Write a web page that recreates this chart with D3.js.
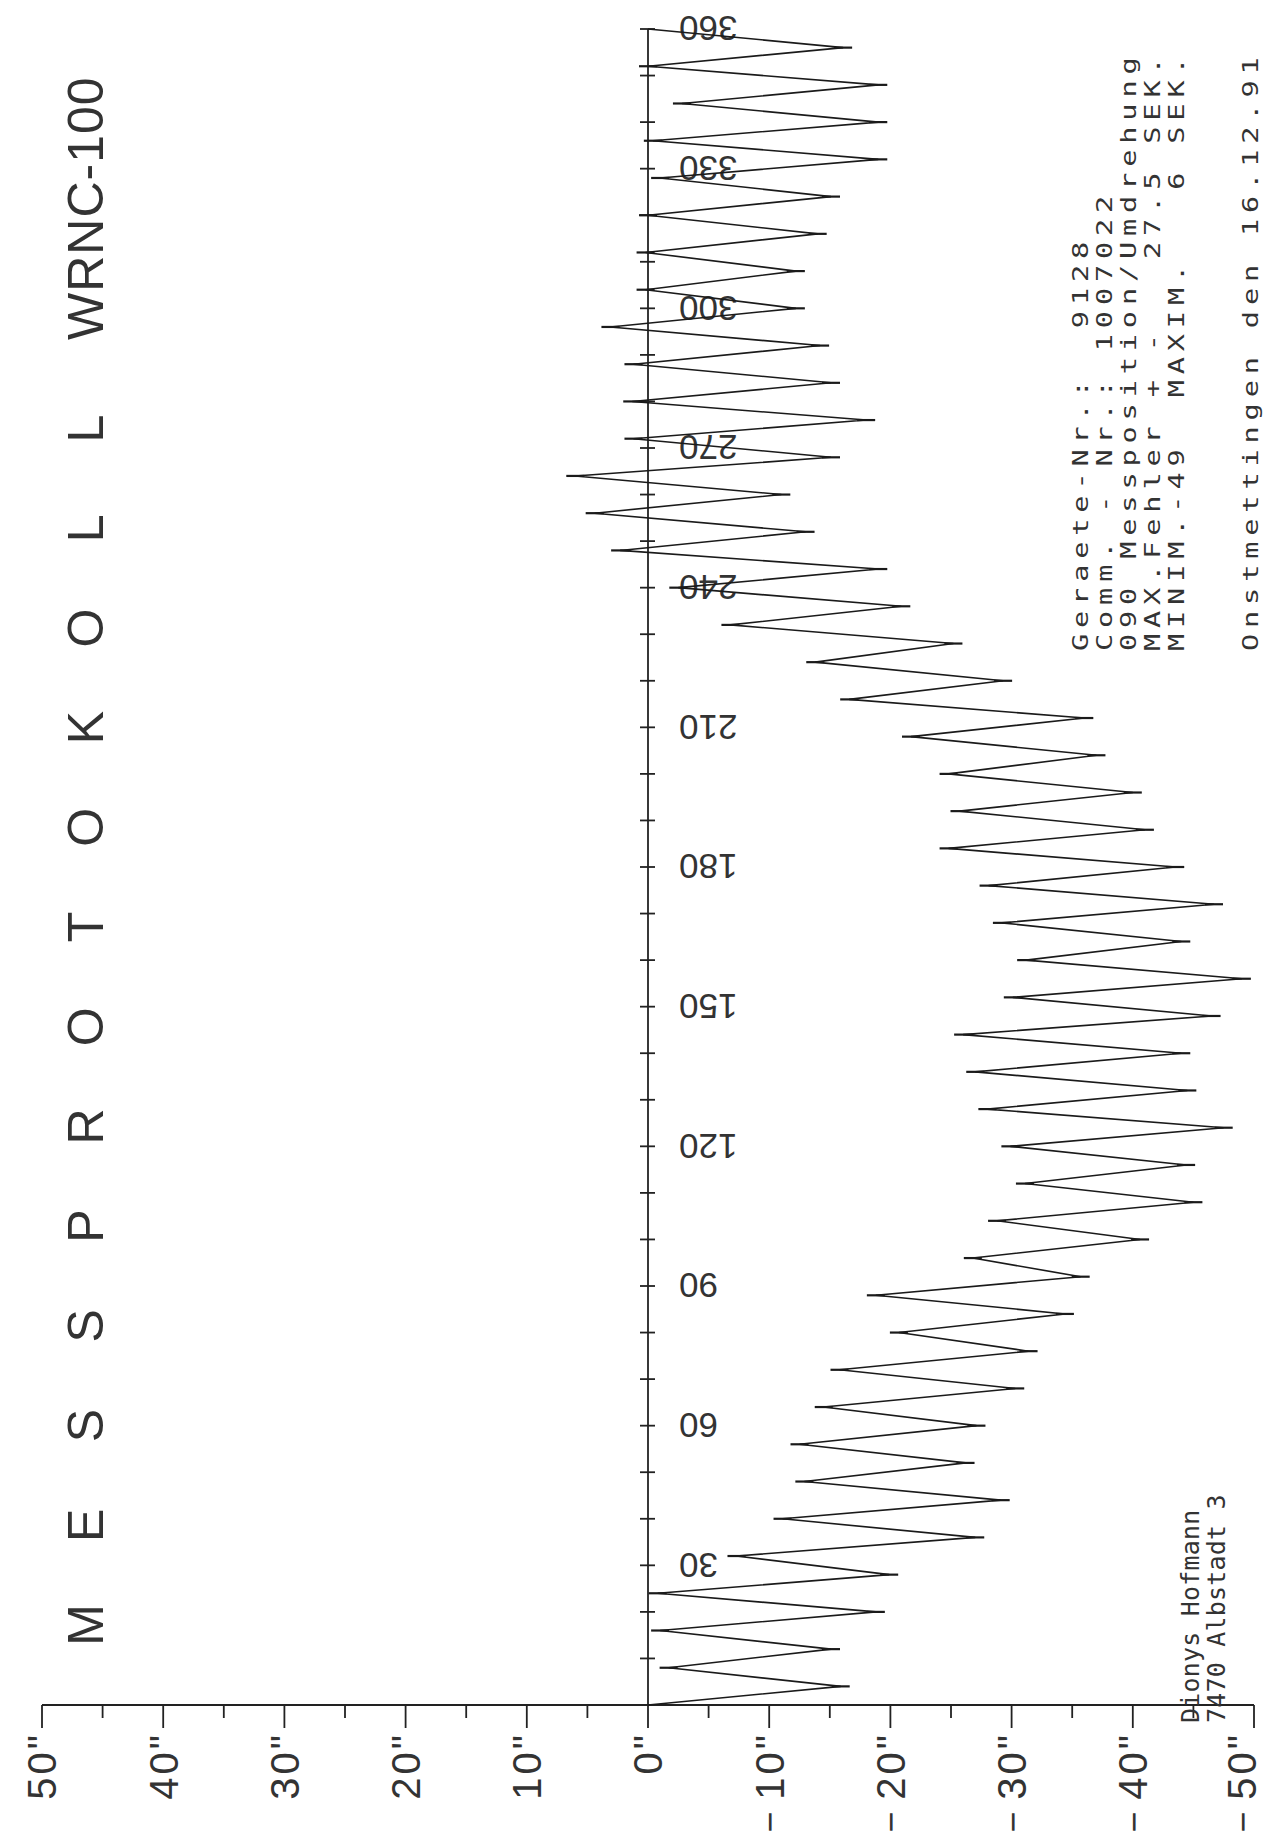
<!DOCTYPE html>
<html>
<head>
<meta charset="utf-8">
<script src="https://cdn.jsdelivr.net/npm/d3@7"></script>
<style>
  html, body { margin: 0; padding: 0; background: #ffffff; }
  svg { display: block; }
</style>
</head>
<body>
<svg id="chart" width="1271" height="1841"></svg>
<script>
// ---------- data ----------
const positions = [0,4,8,12,16,20,24,28,32,36,40,44,48,52,56,60,64,68,72,76,80,84,88,92,96,100,
  104,108,112,116,120,124,128,132,136,140,144,148,152,156,160,164,168,172,176,180,184,188,192,196,
  200,204,208,212,216,220,224,228,232,236,240,244,248,252,256,260,264,268,272,276,280,284,288,292,
  296,300,304,308,312,316,320,324,328,332,336,340,344,348,352,356,360];
const errors = [0,-15.9,-1.7,-15.1,-1.0,-18.8,-0.8,-19.9,-7.3,-27.0,-11.1,-29.1,-12.9,-26.2,-12.5,
  -27.1,-14.5,-30.3,-15.8,-31.4,-20.7,-34.4,-18.8,-35.7,-26.8,-40.6,-28.8,-45.0,-31.1,-44.4,-29.9,
  -47.5,-28.0,-44.5,-27.0,-44.0,-26.0,-46.5,-30.1,-49.0,-31.2,-44.0,-29.2,-46.7,-28.1,-43.5,-24.8,
  -41.0,-25.7,-40.0,-24.8,-37.0,-21.7,-36.0,-16.6,-29.3,-13.8,-25.2,-6.8,-20.9,-2.5,-19.0,2.3,
  -13.0,4.4,-11.0,6.0,-15.1,1.2,-18.0,1.3,-15.1,1.2,-14.2,3.1,-12.2,0.2,-12.2,0.2,-14.0,0,-15.1,
  -1.0,-19.0,-0.4,-19.0,-2.8,-19.0,0,-16.1,0];
const errorTicks = [-50,-45,-40,-35,-30,-25,-20,-15,-10,-5,0,5,10,15,20,25,30,35,40,45,50];
const errorLabels = [-50,-40,-30,-20,-10,0,10,20,30,40,50];
const positionTicks = [0,10,20,30,40,50,60,70,80,90,100,110,120,130,140,150,160,170,180,190,200,
  210,220,230,240,250,260,270,280,290,300,310,320,330,340,350,360];
const positionLabels = [30,60,90,120,150,180,210,240,270,300,330,360];
const titleLetters = ["M","E","S","S","P","R","O","T","O","K","O","L","L"];
const titleModel = "WRNC-100";
const infoLines = [
  "Geraete-Nr.:  9128",
  "Comm. - Nr.: 1007022",
  "090 Messposition/Umdrehung",
  "MAX.Fehler + -   27.5 SEK.",
  "MINIM.-49  MAXIM.   6 SEK."
];
const placeLine = "Onstmettingen den 16.12.91";
const addressLines = ["Dionys Hofmann", "7470 Albstadt 3"];

// ---------- scales ----------
const x = d3.scaleLinear().domain([50, -50]).range([42, 1254]);
const y = d3.scaleLinear().domain([0, 360]).range([1705, 29]);

const svg = d3.select("#chart");
const ink = "#222";
svg.append("rect").attr("width", 1271).attr("height", 1841).attr("fill", "#fff");

// ---------- error axis (horizontal, at position 0) ----------
const gx = svg.append("g");
gx.append("line")
  .attr("x1", x(50)).attr("x2", x(-50))
  .attr("y1", y(0)).attr("y2", y(0))
  .attr("stroke", ink).attr("stroke-width", 1.8);
gx.selectAll("line.tk").data(errorTicks).join("line")
  .attr("class", "tk")
  .attr("x1", d => x(d)).attr("x2", d => x(d))
  .attr("y1", y(0))
  .attr("y2", d => y(0) + (d % 10 === 0 ? 23 : 13))
  .attr("stroke", ink).attr("stroke-width", 1.8);
const labelFont = "'Liberation Sans', Arial, sans-serif";
const labX = d => Math.min(x(d), 1242);
gx.selectAll("text.lab").data(errorLabels).join("text")
  .attr("class", "lab")
  .attr("transform", d => `translate(${labX(d)},1732) rotate(-90)`)
  .attr("text-anchor", "end")
  .attr("dy", "0.36em")
  .attr("font-family", labelFont)
  .attr("font-size", 40)
  .attr("letter-spacing", 3)
  .attr("fill", "#333")
  .text(d => `${Math.abs(d)}"`);
gx.selectAll("text.minus").data(errorLabels.filter(d => d < 0)).join("text")
  .attr("class", "minus")
  .attr("transform", d => `translate(${labX(d)},1822) rotate(-90)`)
  .attr("text-anchor", "middle")
  .attr("dy", "0.36em")
  .attr("font-family", labelFont)
  .attr("font-size", 36)
  .attr("fill", "#333")
  .text("\u2212");

// ---------- position axis (vertical, at 0") ----------
const gy = svg.append("g");
gy.append("line")
  .attr("x1", x(0)).attr("x2", x(0))
  .attr("y1", y(0)).attr("y2", y(360))
  .attr("stroke", ink).attr("stroke-width", 1.8);
gy.selectAll("line.tk").data(positionTicks.filter(d => d > 0)).join("line")
  .attr("class", "tk")
  .attr("x1", x(0) - 8).attr("x2", x(0) + 7)
  .attr("y1", d => y(d)).attr("y2", d => y(d))
  .attr("stroke", ink).attr("stroke-width", 1.8);
gy.selectAll("text").data(positionLabels).join("text")
  .attr("transform", d => `translate(679,${y(d)}) rotate(180)`)
  .attr("text-anchor", "end")
  .attr("dy", "0.36em")
  .attr("font-family", labelFont)
  .attr("font-size", 35)
  .attr("fill", "#333")
  .text(d => d);

// ---------- error curve ----------
const pts = positions.map((p, i) => ({p, v: errors[i], i}));
const line = d3.line().x(d => x(d.v)).y(d => y(d.p));
svg.append("path")
  .datum(pts)
  .attr("d", line)
  .attr("fill", "none")
  .attr("stroke", "#1a1a1a")
  .attr("stroke-width", 1.6)
  .attr("stroke-linejoin", "miter");
// plotter pen marks at each measuring point
svg.append("g").selectAll("line").data(pts.slice(1, -1)).join("line")
  .attr("x1", d => x(d.v) - 9).attr("x2", d => x(d.v) + 9)
  .attr("y1", d => y(d.p)).attr("y2", d => y(d.p))
  .attr("stroke", "#1a1a1a").attr("stroke-width", 2.2);

// ---------- title ----------
const gt = svg.append("g").attr("fill", "#333").attr("font-family", labelFont).attr("font-size", 50);
gt.selectAll("text.ch").data(titleLetters).join("text")
  .attr("class", "ch")
  .attr("transform", (d, i) => `translate(103,${1625 - i * 99.7}) rotate(-90)`)
  .attr("text-anchor", "middle")
  .text(d => d);
gt.append("text")
  .attr("transform", "translate(103,340) rotate(-90)")
  .attr("text-anchor", "start")
  .attr("letter-spacing", 1)
  .text(titleModel);

// ---------- info text ----------
const monoFont = "'DejaVu Sans Mono', 'Liberation Mono', monospace";
const gi = svg.append("g").attr("fill", "#333").attr("font-family", monoFont);
gi.selectAll("text.info").data(infoLines).join("text")
  .attr("class", "info")
  .attr("transform", (d, i) => `translate(${1088 + i * 24},651) rotate(-90) scale(1.3,1)`)
  .attr("font-size", 22).attr("letter-spacing", 4.5)
  .style("white-space", "pre")
  .text(d => d);
gi.append("text")
  .attr("transform", "translate(1258,651) rotate(-90) scale(1.3,1)")
  .attr("font-size", 22).attr("letter-spacing", 4.5)
  .style("white-space", "pre")
  .text(placeLine);
gi.selectAll("text.addr").data(addressLines).join("text")
  .attr("class", "addr")
  .attr("transform", (d, i) => `translate(${1199 + i * 26},1723) rotate(-90)`)
  .attr("font-size", 25).attr("letter-spacing", 0.2)
  .style("white-space", "pre")
  .text(d => d);
</script>
</body>
</html>
